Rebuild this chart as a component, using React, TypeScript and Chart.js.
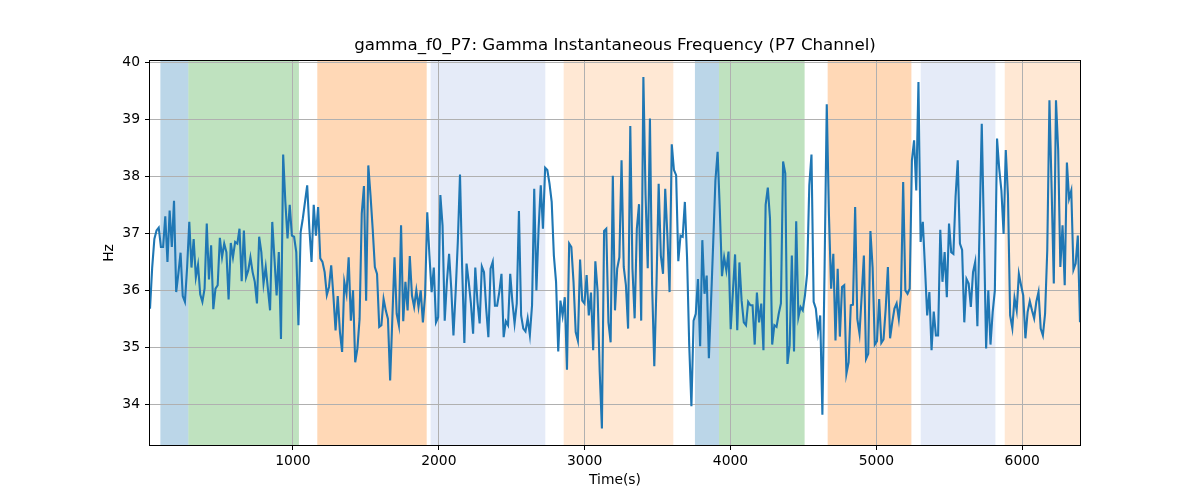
import { useEffect, useRef } from "react";
import { Chart, registerables } from "chart.js";

Chart.register(...registerables);

// first and last sample time of the recording (s)
const T_START = 20;
const T_END = 6396;

// instantaneous gamma frequency (Hz), one value per sample, read left to right
const freqHz: number[] = [
  35.68, 36.4, 36.9, 37.05, 37.1, 36.76, 36.76, 37.3, 36.5, 37.4, 36.76, 37.57, 35.97, 36.3, 36.66,
  35.9, 35.8, 36.4, 37.2, 36.4, 36.9, 36.23, 36.45, 35.93, 35.8, 36.03, 37.17, 36.19, 36.79, 35.67,
  36.03, 36.09, 36.92, 36.58, 36.82, 36.67, 35.84, 36.83, 36.58, 36.85, 36.82, 37.08, 36.16, 37.05,
  36.23, 36.35, 36.58, 36.32, 36.15, 35.77, 36.94, 36.67, 36.12, 36.41, 36.03,
  35.65, 37.2, 36.56, 35.91, 36.67, 35.15, 38.38, 37.55, 36.91, 37.5, 36.96, 36.94, 36.67, 35.39,
  37.02, 37.26, 37.55, 37.84, 37.08, 36.5, 37.5, 36.96, 37.46, 36.56, 36.5, 36.32, 35.92, 36.06,
  36.44, 35.91, 35.3, 35.9, 35.27, 34.92, 36.15, 35.94, 36.58, 35.47, 36.0, 34.74, 34.98, 35.5,
  37.35, 37.83, 35.82, 38.19, 37.67, 37.08, 36.41, 36.29, 35.36, 35.39, 35.85,
  35.65, 35.5, 34.42, 35.5, 36.58, 35.59, 35.39, 37.14, 35.46, 36.15, 35.65, 36.6, 35.91, 35.71,
  36.0, 35.71, 36.0, 35.44, 35.91, 37.37, 36.61, 35.97, 36.4, 35.44, 35.53, 37.67, 37.14, 35.47,
  36.15, 36.64, 36.03, 35.21, 35.97, 36.85, 38.03, 36.38, 35.08, 36.47, 36.15, 35.77, 35.24, 36.4,
  35.8, 35.42, 36.42, 36.32, 35.68, 35.18, 36.38, 36.5, 35.73, 35.73, 35.97, 36.29,
  35.18, 35.46, 35.39, 36.29, 35.8, 35.42, 35.77, 37.39, 35.56, 35.33, 35.28, 35.51, 35.22, 35.74,
  37.78, 36.0, 37.08, 37.84, 37.08, 38.15, 38.11, 37.87, 37.55, 36.61, 36.15, 34.93, 35.82, 35.56,
  35.88, 34.61, 36.82, 36.76, 36.15, 35.27, 35.12, 36.54, 35.82, 35.77, 36.27, 35.56, 35.96, 34.95,
  36.51, 36.0, 34.57, 33.58, 37.04, 37.08, 35.44, 35.09, 38.01, 35.65, 36.38, 36.58, 38.28,
  36.41, 36.09, 35.33, 38.88, 36.38, 35.51, 37.08, 37.51, 35.47, 39.74, 37.67, 36.39, 39.01, 36.09,
  34.67, 36.09, 37.87, 36.61, 36.29, 37.78, 36.96, 35.97, 38.56, 38.11, 38.02, 36.51, 36.96, 36.94,
  37.55, 36.58, 35.04, 33.97, 35.47, 35.59, 36.2, 35.02, 36.88, 35.94, 36.26, 34.81, 35.8, 36.85,
  37.93, 38.43, 37.43, 36.25, 36.58, 36.35, 36.68, 35.32, 35.97, 36.63, 35.3,
  36.49, 35.82, 35.44, 35.39, 35.8, 35.74, 35.74, 35.05, 35.96, 35.44, 35.77, 34.95, 37.5, 37.8,
  37.26, 35.05, 35.39, 35.36, 35.59, 35.77, 38.26, 38.05, 34.71, 35.04, 36.61, 34.93, 37.21, 35.53,
  35.71, 35.65, 35.91, 36.29, 37.84, 38.38, 35.8, 35.68, 35.27, 35.56, 33.82, 36.38, 39.26, 37.32,
  36.03, 36.64, 35.12, 36.38, 35.19, 36.06, 36.09, 34.54, 34.74, 35.74, 35.75, 37.46,
  35.5, 35.24, 35.91, 36.61, 34.8, 34.89, 37.04, 36.4, 35.05, 35.11, 35.85, 35.08, 35.14, 35.68,
  36.41, 35.16, 35.44, 35.68, 35.77, 35.5, 35.91, 37.9, 36.0, 35.94, 36.03, 38.28, 38.63, 37.75,
  39.65, 36.85, 37.2, 36.4, 35.56, 35.97, 34.95, 35.63, 35.21, 35.21, 37.06, 36.15, 36.67, 35.88,
  37.17, 36.67, 36.64, 37.64, 38.28, 36.82, 36.71, 35.44, 36.2, 36.12, 35.71, 36.32, 36.5,
  35.37, 37.1, 38.92, 37.02, 34.98, 36.0, 35.05, 35.62, 36.0, 38.66, 38.13, 37.75, 36.99, 38.46,
  37.67, 35.56, 35.34, 35.87, 35.65, 36.29, 36.09, 35.91, 35.16, 35.62, 35.81, 35.65, 35.51, 35.8,
  35.97, 35.33, 35.21, 35.59, 36.7, 39.33, 37.78, 36.12, 39.33, 38.46, 36.41, 37.14, 36.09, 38.24,
  37.61, 37.75, 36.36, 36.47, 36.96, 35.44,
];

// shaded state intervals (s)
const spanStart = [91, 283, 1167, 1944, 2856, 3756, 3921, 4666, 5304, 5880];
const spanEnd = [283, 1041, 1917, 2730, 3608, 3921, 4508, 5240, 5816, 6400];
const spanColor = [
  "rgba(31, 119, 180, 0.3)",
  "rgba(44, 160, 44, 0.3)",
  "rgba(255, 127, 14, 0.3)",
  "rgba(51, 102, 204, 0.13)",
  "rgba(255, 127, 14, 0.18)",
  "rgba(31, 119, 180, 0.3)",
  "rgba(44, 160, 44, 0.3)",
  "rgba(255, 127, 14, 0.3)",
  "rgba(51, 102, 204, 0.13)",
  "rgba(255, 127, 14, 0.18)",
];

const xTicks = [1000, 2000, 3000, 4000, 5000, 6000];
const yTicks = [34, 35, 36, 37, 38, 39, 40];
const Y_MIN = 33.29;
const Y_MAX = 40.02;

// axvspan-like bands, painted before the grid so grid lines sit on top
const spansPlugin = {
  id: "spans",
  afterLayout(chart: any) {
    // centre the title over the plot area, not the whole canvas
    if (chart.titleBlock) {
      chart.titleBlock.left = chart.chartArea.left;
      chart.titleBlock.right = chart.chartArea.right;
    }
  },
  beforeDraw(chart: Chart) {
    const { ctx, chartArea, scales } = chart;
    const xs = scales.x;
    ctx.save();
    ctx.beginPath();
    ctx.rect(chartArea.left, chartArea.top, chartArea.width, chartArea.height);
    ctx.clip();
    spanStart.forEach((s, i) => {
      const x0 = xs.getPixelForValue(s);
      const x1 = xs.getPixelForValue(spanEnd[i]);
      ctx.fillStyle = spanColor[i];
      ctx.fillRect(x0, chartArea.top, x1 - x0, chartArea.height);
    });
    ctx.restore();
  },
};

// black box round the plot like matplotlib spines
const framePlugin = {
  id: "frame",
  afterDatasetsDraw(chart: Chart) {
    const { ctx, chartArea } = chart;
    ctx.save();
    ctx.strokeStyle = "#000";
    ctx.lineWidth = 1;
    const l = Math.round(chartArea.left) - 0.5;
    const t = Math.round(chartArea.top) - 0.5;
    const r = Math.round(chartArea.right) + 0.5;
    const b = Math.round(chartArea.bottom) + 0.5;
    ctx.strokeRect(l, t, r - l, b - t);
    ctx.restore();
  },
};

const FreqChart = () => {
  const canvasRef = useRef<HTMLCanvasElement | null>(null);

  useEffect(() => {
    if (!canvasRef.current) return;
    const step = (T_END - T_START) / (freqHz.length - 1);
    const points = freqHz.map((v, i) => ({ x: T_START + i * step, y: v }));
    const tickFont = { family: "DejaVu Sans", size: 13.89 };

    const chart = new Chart(canvasRef.current, {
      type: "line",
      data: {
        datasets: [
          {
            label: "gamma_f0_P7",
            data: points,
            borderColor: "#1f77b4",
            borderWidth: 2.1,
            pointRadius: 0,
            tension: 0,
            fill: false,
          },
        ],
      },
      options: {
        animation: false,
        responsive: false,
        layout: { padding: { left: 0, right: 120, top: 0, bottom: 0 } },
        plugins: {
          legend: { display: false },
          tooltip: { enabled: false },
          title: {
            display: true,
            text: "gamma_f0_P7: Gamma Instantaneous Frequency (P7 Channel)",
            color: "#000",
            font: { family: "DejaVu Sans", size: 16.67, weight: "normal" },
            padding: { top: 36, bottom: 5 },
          },
        },
        scales: {
          x: {
            type: "linear",
            min: T_START,
            max: T_END,
            afterBuildTicks: (s: any) => {
              s.ticks = xTicks.map((v) => ({ value: v }));
            },
            afterFit: (s: any) => {
              s.height = 55;
            },
            border: { display: false },
            grid: { color: "#b0b0b0", lineWidth: 1, tickColor: "#000", tickLength: 5 },
            ticks: {
              color: "#000",
              font: tickFont,
              padding: 3,
              maxRotation: 0,
              autoSkip: false,
              callback: (v: any) => String(v),
            },
            title: {
              display: true,
              text: "Time(s)",
              color: "#000",
              font: tickFont,
              padding: { top: 0, bottom: 11.5 },
            },
          },
          y: {
            type: "linear",
            min: Y_MIN,
            max: Y_MAX,
            afterBuildTicks: (s: any) => {
              s.ticks = yTicks.map((v) => ({ value: v }));
            },
            afterFit: (s: any) => {
              s.width = 150;
            },
            border: { display: false },
            grid: { color: "#b0b0b0", lineWidth: 1, tickColor: "#000", tickLength: 5 },
            ticks: {
              color: "#000",
              font: tickFont,
              padding: 5,
              autoSkip: false,
              callback: (v: any) => String(v),
            },
            title: {
              display: true,
              text: "Hz",
              color: "#000",
              font: tickFont,
              padding: { top: 101, bottom: 0 },
            },
          },
        },
      },
      plugins: [spansPlugin, framePlugin],
    });

    return () => {
      chart.destroy();
    };
  }, []);

  return (
    <div style={{ position: "absolute", left: 0, top: 0, width: 1200, height: 500, background: "#fff" }}>
      <canvas ref={canvasRef} width={1200} height={500}></canvas>
    </div>
  );
};

export default function App() {
  return <FreqChart />;
}
